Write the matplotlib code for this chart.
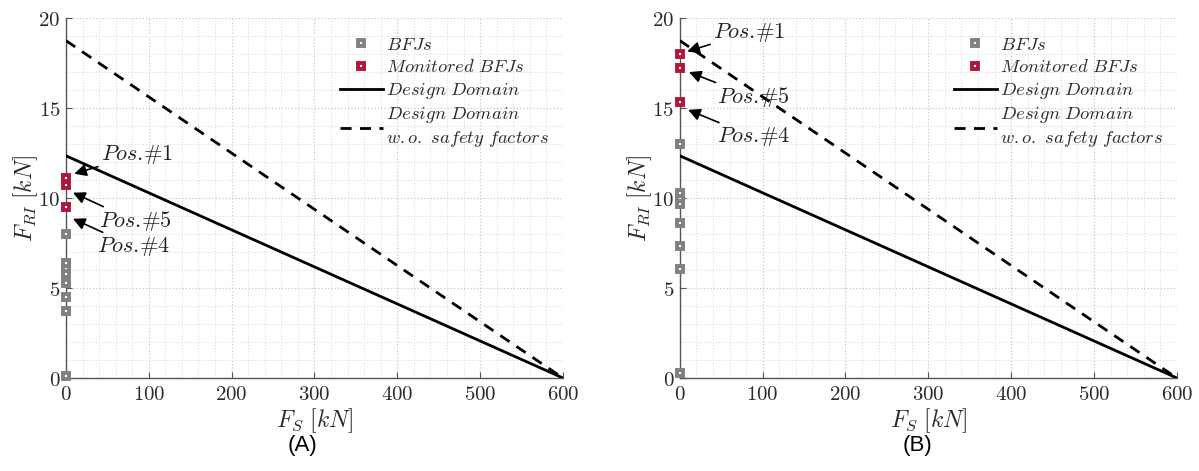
import matplotlib
matplotlib.use("Agg")
import matplotlib.pyplot as plt
import numpy as np
from matplotlib.ticker import MultipleLocator, FuncFormatter

plt.rcParams['mathtext.fontset'] = 'cm'

# ---- data ----
line_fs = [0, 600]
design_domain = [12.35, 0.0]
design_domain_nosf = [18.75, 0.0]

a_bfj_fs = [0, 0, 0, 0, 0, 0, 0, 0]
a_bfj_fri = [0.1, 3.7, 4.5, 5.3, 5.8, 6.1, 6.4, 8.0]
a_mon_fs = [0, 0, 0]
a_mon_fri = [11.1, 10.75, 9.5]   # Pos.#1, Pos.#5, Pos.#4

b_bfj_fs = [0, 0, 0, 0, 0, 0, 0, 0]
b_bfj_fri = [0.25, 6.05, 7.35, 8.6, 9.65, 10.0, 10.3, 13.0]
b_mon_fs = [0, 0, 0]
b_mon_fri = [18.0, 17.25, 15.35]

pos_labels = ["Pos.\\!\\#1", "Pos.\\!\\#5", "Pos.\\!\\#4"]

gray = "#808080"
red = "#b0163a"
spine_c = "#555555"

fig = plt.figure(figsize=(11.99, 4.71), dpi=100)
axA = fig.add_axes([0.055, 0.1975, 0.4145, 0.764])
axB = fig.add_axes([0.567, 0.1975, 0.4145, 0.764])

def style(ax):
    ax.set_xlim(0, 600)
    ax.set_ylim(0, 20)
    ax.xaxis.set_major_locator(MultipleLocator(100))
    ax.xaxis.set_minor_locator(MultipleLocator(20))
    ax.yaxis.set_major_locator(MultipleLocator(5))
    ax.yaxis.set_minor_locator(MultipleLocator(1))
    ax.grid(which='major', color='#c8c8c8', linestyle=':', linewidth=0.9)
    ax.grid(which='minor', color='#dddddd', linestyle=':', linewidth=0.8)
    ax.set_axisbelow(True)
    for s in ['top', 'right']:
        ax.spines[s].set_visible(False)
    for s in ['left', 'bottom']:
        ax.spines[s].set_color(spine_c)
        ax.spines[s].set_linewidth(1.0)
    ax.tick_params(which='major', direction='in', length=4, color=spine_c,
                   labelsize=15, labelcolor='#2a2a2a', pad=4)
    ax.tick_params(which='minor', length=0)
    fmt = FuncFormatter(lambda v, p: "$%d$" % v)
    ax.xaxis.set_major_formatter(fmt)
    ax.yaxis.set_major_formatter(fmt)
    ax.set_xlabel("$F_S\\ [kN]$", fontsize=17, color='#2a2a2a', labelpad=2)
    ax.set_ylabel("$F_{RI}\\ [kN]$", fontsize=17, color='#2a2a2a', labelpad=-1)

def draw(ax, bfj_fs, bfj_fri, mon_fs, mon_fri, text_pos, arrow_tips):
    style(ax)
    ax.plot(bfj_fs, bfj_fri, linestyle='none', marker='s', markersize=5,
            markerfacecolor='white', markeredgecolor=gray, markeredgewidth=2.8,
            label="$BFJs$", clip_on=False, zorder=4)
    ax.plot(mon_fs, mon_fri, linestyle='none', marker='s', markersize=5,
            markerfacecolor='white', markeredgecolor=red, markeredgewidth=2.8,
            label="$Monitored\\ BFJs$", clip_on=False, zorder=5)
    ax.plot(line_fs, design_domain, color='black', linewidth=2,
            label="$Design\\ Domain$", zorder=3)
    ax.plot(line_fs, design_domain_nosf, color='black', linewidth=2,
            linestyle=(0, (4, 3)),
            label="$Design\\ Domain$\n$w.o.\\ safety\\ factors$", zorder=3)
    for lab, tp, tip in zip(pos_labels, text_pos, arrow_tips):
        ax.annotate("$" + lab + "$", xy=tip, xytext=tp, fontsize=16,
                    color='#222222', ha='left', va='center',
                    arrowprops=dict(arrowstyle='-|>', color='black', lw=1.2,
                                    mutation_scale=18, shrinkA=0, shrinkB=0),
                    zorder=6)
    leg = ax.legend(loc='upper right', bbox_to_anchor=(0.995, 0.985), frameon=False,
                    fontsize=13.4, handlelength=2.3, labelspacing=0.2,
                    handletextpad=0.2, borderaxespad=0.2)
    for t in leg.get_texts():
        t.set_color('#2a2a2a')

draw(axA, a_bfj_fs, a_bfj_fri, a_mon_fs, a_mon_fri,
     text_pos=[(42, 12.4), (40, 8.7), (38, 7.3)],
     arrow_tips=[(10, 11.35), (8.5, 10.3), (8.5, 8.85)])
draw(axB, b_bfj_fs, b_bfj_fri, b_mon_fs, b_mon_fri,
     text_pos=[(40, 19.2), (45, 15.6), (45, 13.4)],
     arrow_tips=[(9, 18.15), (11, 17.0), (10, 14.9)])

fig.text(0.252, 0.055, "(A)", fontsize=16, family='Liberation Sans', ha='center', va='center')
fig.text(0.765, 0.055, "(B)", fontsize=16, family='Liberation Sans', ha='center', va='center')

fig.savefig("out.png", dpi=100)
